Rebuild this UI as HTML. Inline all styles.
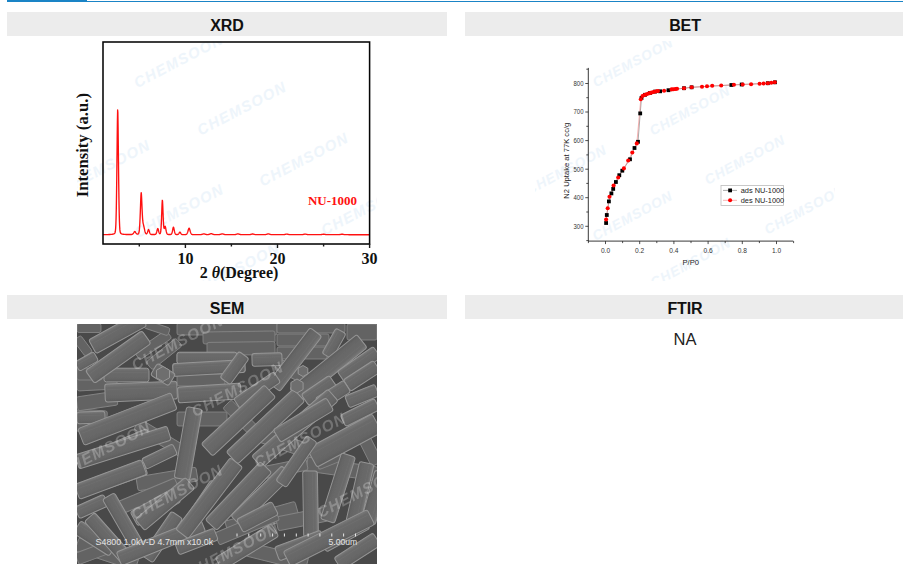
<!DOCTYPE html>
<html><head><meta charset="utf-8"><style>
html,body{margin:0;padding:0;background:#fff;}
body{width:903px;height:572px;overflow:hidden;position:relative;font-family:"Liberation Sans",sans-serif;}
.abs{position:absolute;}
.hd{position:absolute;height:24px;background:#ececec;text-align:center;line-height:27px;font-weight:bold;font-size:16px;letter-spacing:-0.1px;color:#111;}
svg{position:absolute;left:0;top:0;}
</style></head><body>
<div class="abs" style="left:7px;top:1px;width:896px;height:1px;background:#1a84c6"></div>
<div class="abs" style="left:7px;top:0;width:80px;height:2px;background:#1a84c6"></div>
<div class="hd" style="left:7px;top:12px;width:440px">XRD</div>
<div class="hd" style="left:465px;top:12px;width:440px">BET</div>
<div class="hd" style="left:7px;top:295px;width:440px">SEM</div>
<div class="hd" style="left:465px;top:295px;width:440px">FTIR</div>
<div class="abs" style="left:465px;top:329px;width:440px;text-align:center;font-size:16.5px;line-height:20px;color:#222">NA</div>
<svg width="903" height="572" viewBox="0 0 903 572">
<g transform="translate(77 41)" clip-path="url(#semclip)"><text x="101.4" y="19.5" transform="rotate(-27.5 101.4 19.5)" text-anchor="middle" dominant-baseline="central" font-family="Liberation Sans" font-weight="bold" font-style="italic" font-size="15" letter-spacing="1.3" fill="#eef5fb">CHEMSOON</text><text x="164.7" y="67" transform="rotate(-27.5 164.7 67)" text-anchor="middle" dominant-baseline="central" font-family="Liberation Sans" font-weight="bold" font-style="italic" font-size="15" letter-spacing="1.3" fill="#eef5fb">CHEMSOON</text><text x="28.5" y="125.4" transform="rotate(-27.5 28.5 125.4)" text-anchor="middle" dominant-baseline="central" font-family="Liberation Sans" font-weight="bold" font-style="italic" font-size="15" letter-spacing="1.3" fill="#eef5fb">CHEMSOON</text><text x="226.8" y="118" transform="rotate(-27.5 226.8 118)" text-anchor="middle" dominant-baseline="central" font-family="Liberation Sans" font-weight="bold" font-style="italic" font-size="15" letter-spacing="1.3" fill="#eef5fb">CHEMSOON</text><text x="102" y="169.5" transform="rotate(-27.5 102 169.5)" text-anchor="middle" dominant-baseline="central" font-family="Liberation Sans" font-weight="bold" font-style="italic" font-size="15" letter-spacing="1.3" fill="#eef5fb">CHEMSOON</text><text x="288.8" y="167" transform="rotate(-27.5 288.8 167)" text-anchor="middle" dominant-baseline="central" font-family="Liberation Sans" font-weight="bold" font-style="italic" font-size="15" letter-spacing="1.3" fill="#eef5fb">CHEMSOON</text><text x="158" y="228.4" transform="rotate(-27.5 158 228.4)" text-anchor="middle" dominant-baseline="central" font-family="Liberation Sans" font-weight="bold" font-style="italic" font-size="15" letter-spacing="1.3" fill="#eef5fb">CHEMSOON</text></g>
<g transform="translate(535 41)" clip-path="url(#semclip)"><text x="98" y="21.5" transform="rotate(-28.2 98 21.5)" text-anchor="middle" dominant-baseline="central" font-family="Liberation Sans" font-weight="bold" font-style="italic" font-size="13.8" letter-spacing="1.0" fill="#eef5fb">CHEMSOON</text><text x="155" y="69.8" transform="rotate(-28.2 155 69.8)" text-anchor="middle" dominant-baseline="central" font-family="Liberation Sans" font-weight="bold" font-style="italic" font-size="13.8" letter-spacing="1.0" fill="#eef5fb">CHEMSOON</text><text x="31.5" y="129" transform="rotate(-28.2 31.5 129)" text-anchor="middle" dominant-baseline="central" font-family="Liberation Sans" font-weight="bold" font-style="italic" font-size="13.8" letter-spacing="1.0" fill="#eef5fb">CHEMSOON</text><text x="210" y="118.9" transform="rotate(-28.2 210 118.9)" text-anchor="middle" dominant-baseline="central" font-family="Liberation Sans" font-weight="bold" font-style="italic" font-size="13.8" letter-spacing="1.0" fill="#eef5fb">CHEMSOON</text><text x="97.6" y="175" transform="rotate(-28.2 97.6 175)" text-anchor="middle" dominant-baseline="central" font-family="Liberation Sans" font-weight="bold" font-style="italic" font-size="13.8" letter-spacing="1.0" fill="#eef5fb">CHEMSOON</text><text x="269.7" y="168.7" transform="rotate(-28.2 269.7 168.7)" text-anchor="middle" dominant-baseline="central" font-family="Liberation Sans" font-weight="bold" font-style="italic" font-size="13.8" letter-spacing="1.0" fill="#eef5fb">CHEMSOON</text><text x="155.8" y="221.8" transform="rotate(-28.2 155.8 221.8)" text-anchor="middle" dominant-baseline="central" font-family="Liberation Sans" font-weight="bold" font-style="italic" font-size="13.8" letter-spacing="1.0" fill="#eef5fb">CHEMSOON</text></g>
<path d="M102.97,234.64 L103.19,234.63 L103.41,234.63 L103.64,234.63 L103.86,234.63 L104.08,234.63 L104.30,234.62 L104.53,234.62 L104.75,234.62 L104.97,234.62 L105.19,234.61 L105.41,234.61 L105.64,234.61 L105.86,234.60 L106.08,234.60 L106.30,234.60 L106.53,234.59 L106.75,234.59 L106.97,234.58 L107.19,234.58 L107.41,234.57 L107.64,234.57 L107.86,234.56 L108.08,234.56 L108.30,234.55 L108.53,234.54 L108.75,234.53 L108.97,234.53 L109.19,234.52 L109.41,234.51 L109.64,234.50 L109.86,234.49 L110.08,234.48 L110.30,234.46 L110.53,234.45 L110.75,234.43 L110.97,234.41 L111.19,234.40 L111.41,234.37 L111.64,234.35 L111.86,234.33 L112.08,234.30 L112.30,234.26 L112.52,234.23 L112.75,234.19 L112.97,234.14 L113.19,234.08 L113.41,234.02 L113.64,233.95 L113.86,233.86 L114.08,233.75 L114.30,233.62 L114.52,233.45 L114.75,233.19 L114.97,232.78 L115.19,232.05 L115.41,230.75 L115.64,228.41 L115.86,224.42 L116.08,218.00 L116.30,208.42 L116.52,195.21 L116.75,178.51 L116.97,159.20 L117.19,138.95 L117.41,120.71 L117.64,109.94 L117.86,112.48 L118.08,126.72 L118.30,146.15 L118.52,166.31 L118.75,184.84 L118.97,200.35 L119.19,212.24 L119.41,220.62 L119.63,226.07 L119.86,229.39 L120.08,231.30 L120.30,232.36 L120.52,232.95 L120.75,233.29 L120.97,233.51 L121.19,233.66 L121.41,233.78 L121.63,233.88 L121.86,233.96 L122.08,234.03 L122.30,234.09 L122.52,234.14 L122.75,234.19 L122.97,234.23 L123.19,234.26 L123.41,234.29 L123.63,234.32 L123.86,234.34 L124.08,234.36 L124.30,234.38 L124.52,234.40 L124.75,234.42 L124.97,234.43 L125.19,234.44 L125.41,234.45 L125.63,234.46 L125.86,234.47 L126.08,234.48 L126.30,234.49 L126.52,234.50 L126.74,234.50 L126.97,234.51 L127.19,234.51 L127.41,234.52 L127.63,234.52 L127.86,234.53 L128.08,234.53 L128.30,234.53 L128.52,234.54 L128.74,234.54 L128.97,234.54 L129.19,234.54 L129.41,234.54 L129.63,234.54 L129.86,234.54 L130.08,234.54 L130.30,234.54 L130.52,234.53 L130.74,234.53 L130.97,234.52 L131.19,234.51 L131.41,234.49 L131.63,234.47 L131.86,234.43 L132.08,234.37 L132.30,234.28 L132.52,234.16 L132.74,234.00 L132.97,233.79 L133.19,233.54 L133.41,233.24 L133.63,232.90 L133.86,232.55 L134.08,232.19 L134.30,231.86 L134.52,231.61 L134.74,231.51 L134.97,231.59 L135.19,231.82 L135.41,232.13 L135.63,232.48 L135.85,232.81 L136.08,233.13 L136.30,233.41 L136.52,233.64 L136.74,233.82 L136.97,233.95 L137.19,234.04 L137.41,234.09 L137.63,234.09 L137.85,234.07 L138.08,233.99 L138.30,233.85 L138.52,233.59 L138.74,233.13 L138.97,232.36 L139.19,231.10 L139.41,229.17 L139.63,226.36 L139.85,222.55 L140.08,217.75 L140.30,212.12 L140.52,206.00 L140.74,199.95 L140.97,194.99 L141.19,192.72 L141.41,194.18 L141.63,198.37 L141.85,203.64 L142.08,208.93 L142.30,213.68 L142.52,217.57 L142.74,220.44 L142.96,222.37 L143.19,223.58 L143.41,224.44 L143.63,225.29 L143.85,226.26 L144.08,227.32 L144.30,228.40 L144.52,229.44 L144.74,230.42 L144.96,231.29 L145.19,232.04 L145.41,232.65 L145.63,233.13 L145.85,233.48 L146.08,233.70 L146.30,233.81 L146.52,233.81 L146.74,233.68 L146.96,233.42 L147.19,233.02 L147.41,232.49 L147.63,231.85 L147.85,231.13 L148.08,230.42 L148.30,229.82 L148.52,229.51 L148.74,229.68 L148.96,230.21 L149.19,230.93 L149.41,231.67 L149.63,232.37 L149.85,232.98 L150.08,233.47 L150.30,233.84 L150.52,234.10 L150.74,234.27 L150.96,234.38 L151.19,234.44 L151.41,234.48 L151.63,234.50 L151.85,234.51 L152.07,234.52 L152.30,234.53 L152.52,234.53 L152.74,234.53 L152.96,234.53 L153.19,234.53 L153.41,234.53 L153.63,234.53 L153.85,234.53 L154.07,234.52 L154.30,234.52 L154.52,234.50 L154.74,234.49 L154.96,234.46 L155.19,234.41 L155.41,234.32 L155.63,234.19 L155.85,233.96 L156.07,233.63 L156.30,233.16 L156.52,232.55 L156.74,231.79 L156.96,230.94 L157.19,230.04 L157.41,229.21 L157.63,228.63 L157.85,228.54 L158.07,228.99 L158.30,229.75 L158.52,230.61 L158.74,231.45 L158.96,232.21 L159.18,232.82 L159.41,233.27 L159.63,233.57 L159.85,233.70 L160.07,233.64 L160.30,233.34 L160.52,232.66 L160.74,231.36 L160.96,229.19 L161.18,225.89 L161.41,221.38 L161.63,215.82 L161.85,209.72 L162.07,203.95 L162.30,200.30 L162.52,200.91 L162.74,205.29 L162.96,211.10 L163.18,216.84 L163.41,221.73 L163.63,225.31 L163.85,227.50 L164.07,228.44 L164.30,228.46 L164.52,227.89 L164.74,227.09 L164.96,226.43 L165.18,226.30 L165.41,226.88 L165.63,227.91 L165.85,229.11 L166.07,230.31 L166.30,231.39 L166.52,232.31 L166.74,233.02 L166.96,233.55 L167.18,233.91 L167.41,234.14 L167.63,234.29 L167.85,234.37 L168.07,234.42 L168.29,234.46 L168.52,234.48 L168.74,234.49 L168.96,234.50 L169.18,234.51 L169.41,234.51 L169.63,234.51 L169.85,234.51 L170.07,234.51 L170.29,234.50 L170.52,234.47 L170.74,234.43 L170.96,234.36 L171.18,234.22 L171.41,234.01 L171.63,233.67 L171.85,233.17 L172.07,232.50 L172.29,231.64 L172.52,230.63 L172.74,229.54 L172.96,228.45 L173.18,227.55 L173.41,227.14 L173.63,227.42 L173.85,228.25 L174.07,229.32 L174.29,230.43 L174.52,231.47 L174.74,232.36 L174.96,233.07 L175.18,233.61 L175.40,233.97 L175.63,234.22 L175.85,234.36 L176.07,234.45 L176.29,234.50 L176.52,234.53 L176.74,234.54 L176.96,234.55 L177.18,234.54 L177.40,234.52 L177.63,234.48 L177.85,234.41 L178.07,234.31 L178.29,234.14 L178.52,233.92 L178.74,233.64 L178.96,233.31 L179.18,232.94 L179.40,232.58 L179.63,232.28 L179.85,232.14 L180.07,232.23 L180.29,232.51 L180.52,232.87 L180.74,233.24 L180.96,233.58 L181.18,233.88 L181.40,234.12 L181.63,234.30 L181.85,234.42 L182.07,234.50 L182.29,234.55 L182.51,234.58 L182.74,234.60 L182.96,234.60 L183.18,234.61 L183.40,234.61 L183.63,234.61 L183.85,234.61 L184.07,234.61 L184.29,234.61 L184.51,234.60 L184.74,234.60 L184.96,234.59 L185.18,234.58 L185.40,234.56 L185.63,234.54 L185.85,234.49 L186.07,234.43 L186.29,234.33 L186.51,234.18 L186.74,233.97 L186.96,233.68 L187.18,233.29 L187.40,232.80 L187.63,232.21 L187.85,231.54 L188.07,230.79 L188.29,230.02 L188.51,229.28 L188.74,228.64 L188.96,228.24 L189.18,228.22 L189.40,228.57 L189.63,229.19 L189.85,229.93 L190.07,230.70 L190.29,231.45 L190.51,232.13 L190.74,232.74 L190.96,233.24 L191.18,233.64 L191.40,233.94 L191.62,234.17 L191.85,234.32 L192.07,234.43 L192.29,234.50 L192.51,234.55 L192.74,234.58 L192.96,234.59 L193.18,234.61 L193.40,234.62 L193.62,234.62 L193.85,234.63 L194.07,234.63 L194.29,234.64 L194.51,234.64 L194.74,234.65 L194.96,234.65 L195.18,234.65 L195.40,234.65 L195.62,234.65 L195.85,234.66 L196.07,234.66 L196.29,234.66 L196.51,234.66 L196.74,234.66 L196.96,234.66 L197.18,234.66 L197.40,234.66 L197.62,234.66 L197.85,234.66 L198.07,234.66 L198.29,234.66 L198.51,234.66 L198.73,234.66 L198.96,234.66 L199.18,234.66 L199.40,234.66 L199.62,234.65 L199.85,234.65 L200.07,234.64 L200.29,234.62 L200.51,234.61 L200.73,234.59 L200.96,234.56 L201.18,234.53 L201.40,234.49 L201.62,234.44 L201.85,234.38 L202.07,234.32 L202.29,234.26 L202.51,234.19 L202.73,234.12 L202.96,234.05 L203.18,233.98 L203.40,233.93 L203.62,233.89 L203.85,233.88 L204.07,233.90 L204.29,233.94 L204.51,233.99 L204.73,234.06 L204.96,234.13 L205.18,234.20 L205.40,234.27 L205.62,234.33 L205.85,234.39 L206.07,234.44 L206.29,234.49 L206.51,234.52 L206.73,234.55 L206.96,234.57 L207.18,234.58 L207.40,234.59 L207.62,234.59 L207.84,234.57 L208.07,234.56 L208.29,234.53 L208.51,234.49 L208.73,234.44 L208.96,234.39 L209.18,234.32 L209.40,234.25 L209.62,234.17 L209.84,234.08 L210.07,233.99 L210.29,233.90 L210.51,233.82 L210.73,233.75 L210.96,233.70 L211.18,233.68 L211.40,233.70 L211.62,233.75 L211.84,233.82 L212.07,233.90 L212.29,233.99 L212.51,234.08 L212.73,234.16 L212.96,234.25 L213.18,234.32 L213.40,234.39 L213.62,234.45 L213.84,234.50 L214.07,234.54 L214.29,234.57 L214.51,234.60 L214.73,234.62 L214.95,234.64 L215.18,234.65 L215.40,234.65 L215.62,234.66 L215.84,234.66 L216.07,234.67 L216.29,234.67 L216.51,234.67 L216.73,234.67 L216.95,234.67 L217.18,234.67 L217.40,234.67 L217.62,234.67 L217.84,234.66 L218.07,234.66 L218.29,234.65 L218.51,234.64 L218.73,234.63 L218.95,234.61 L219.18,234.59 L219.40,234.57 L219.62,234.53 L219.84,234.49 L220.07,234.44 L220.29,234.39 L220.51,234.33 L220.73,234.26 L220.95,234.19 L221.18,234.12 L221.40,234.05 L221.62,233.98 L221.84,233.93 L222.07,233.90 L222.29,233.89 L222.51,233.91 L222.73,233.95 L222.95,234.01 L223.18,234.08 L223.40,234.15 L223.62,234.22 L223.84,234.29 L224.06,234.35 L224.29,234.41 L224.51,234.47 L224.73,234.51 L224.95,234.55 L225.18,234.58 L225.40,234.61 L225.62,234.63 L225.84,234.64 L226.06,234.65 L226.29,234.66 L226.51,234.67 L226.73,234.67 L226.95,234.68 L227.18,234.68 L227.40,234.68 L227.62,234.68 L227.84,234.68 L228.06,234.68 L228.29,234.68 L228.51,234.68 L228.73,234.68 L228.95,234.68 L229.18,234.68 L229.40,234.69 L229.62,234.69 L229.84,234.69 L230.06,234.69 L230.29,234.69 L230.51,234.69 L230.73,234.69 L230.95,234.69 L231.17,234.69 L231.40,234.68 L231.62,234.68 L231.84,234.68 L232.06,234.68 L232.29,234.68 L232.51,234.68 L232.73,234.68 L232.95,234.68 L233.17,234.68 L233.40,234.67 L233.62,234.67 L233.84,234.66 L234.06,234.66 L234.29,234.64 L234.51,234.63 L234.73,234.61 L234.95,234.58 L235.17,234.55 L235.40,234.52 L235.62,234.47 L235.84,234.42 L236.06,234.36 L236.29,234.30 L236.51,234.23 L236.73,234.16 L236.95,234.09 L237.17,234.02 L237.40,233.96 L237.62,233.92 L237.84,233.89 L238.06,233.90 L238.28,233.93 L238.51,233.99 L238.73,234.05 L238.95,234.12 L239.17,234.19 L239.40,234.26 L239.62,234.33 L239.84,234.39 L240.06,234.45 L240.28,234.49 L240.51,234.54 L240.73,234.57 L240.95,234.60 L241.17,234.62 L241.40,234.64 L241.62,234.65 L241.84,234.66 L242.06,234.67 L242.28,234.67 L242.51,234.68 L242.73,234.68 L242.95,234.68 L243.17,234.68 L243.40,234.68 L243.62,234.68 L243.84,234.69 L244.06,234.69 L244.28,234.69 L244.51,234.69 L244.73,234.69 L244.95,234.69 L245.17,234.69 L245.40,234.69 L245.62,234.69 L245.84,234.69 L246.06,234.69 L246.28,234.69 L246.51,234.69 L246.73,234.69 L246.95,234.69 L247.17,234.68 L247.39,234.68 L247.62,234.68 L247.84,234.68 L248.06,234.68 L248.28,234.68 L248.51,234.67 L248.73,234.66 L248.95,234.65 L249.17,234.64 L249.39,234.63 L249.62,234.61 L249.84,234.58 L250.06,234.55 L250.28,234.51 L250.51,234.47 L250.73,234.42 L250.95,234.36 L251.17,234.31 L251.39,234.24 L251.62,234.18 L251.84,234.12 L252.06,234.07 L252.28,234.02 L252.51,234.00 L252.73,234.00 L252.95,234.02 L253.17,234.06 L253.39,234.11 L253.62,234.17 L253.84,234.24 L254.06,234.30 L254.28,234.36 L254.50,234.41 L254.73,234.46 L254.95,234.51 L255.17,234.55 L255.39,234.58 L255.62,234.60 L255.84,234.63 L256.06,234.64 L256.28,234.65 L256.50,234.66 L256.73,234.67 L256.95,234.68 L257.17,234.68 L257.39,234.68 L257.62,234.68 L257.84,234.68 L258.06,234.69 L258.28,234.69 L258.50,234.69 L258.73,234.69 L258.95,234.69 L259.17,234.69 L259.39,234.69 L259.62,234.69 L259.84,234.69 L260.06,234.69 L260.28,234.69 L260.50,234.69 L260.73,234.69 L260.95,234.69 L261.17,234.69 L261.39,234.69 L261.62,234.69 L261.84,234.69 L262.06,234.69 L262.28,234.69 L262.50,234.69 L262.73,234.69 L262.95,234.68 L263.17,234.68 L263.39,234.68 L263.61,234.68 L263.84,234.68 L264.06,234.67 L264.28,234.67 L264.50,234.66 L264.73,234.64 L264.95,234.63 L265.17,234.61 L265.39,234.58 L265.61,234.55 L265.84,234.51 L266.06,234.46 L266.28,234.41 L266.50,234.35 L266.73,234.28 L266.95,234.21 L267.17,234.14 L267.39,234.07 L267.61,234.01 L267.84,233.95 L268.06,233.91 L268.28,233.90 L268.50,233.91 L268.73,233.95 L268.95,234.00 L269.17,234.07 L269.39,234.14 L269.61,234.21 L269.84,234.28 L270.06,234.34 L270.28,234.40 L270.50,234.46 L270.72,234.51 L270.95,234.55 L271.17,234.58 L271.39,234.61 L271.61,234.63 L271.84,234.64 L272.06,234.66 L272.28,234.67 L272.50,234.67 L272.72,234.68 L272.95,234.68 L273.17,234.68 L273.39,234.68 L273.61,234.69 L273.84,234.69 L274.06,234.69 L274.28,234.69 L274.50,234.69 L274.72,234.69 L274.95,234.69 L275.17,234.69 L275.39,234.69 L275.61,234.69 L275.84,234.69 L276.06,234.69 L276.28,234.69 L276.50,234.69 L276.72,234.69 L276.95,234.69 L277.17,234.69 L277.39,234.69 L277.61,234.69 L277.84,234.69 L278.06,234.69 L278.28,234.69 L278.50,234.69 L278.72,234.69 L278.95,234.69 L279.17,234.69 L279.39,234.69 L279.61,234.69 L279.83,234.69 L280.06,234.69 L280.28,234.69 L280.50,234.69 L280.72,234.69 L280.95,234.69 L281.17,234.69 L281.39,234.69 L281.61,234.69 L281.83,234.69 L282.06,234.68 L282.28,234.68 L282.50,234.68 L282.72,234.67 L282.95,234.67 L283.17,234.66 L283.39,234.64 L283.61,234.63 L283.83,234.61 L284.06,234.58 L284.28,234.55 L284.50,234.52 L284.72,234.48 L284.95,234.43 L285.17,234.38 L285.39,234.33 L285.61,234.28 L285.83,234.22 L286.06,234.18 L286.28,234.13 L286.50,234.11 L286.72,234.10 L286.94,234.11 L287.17,234.14 L287.39,234.18 L287.61,234.23 L287.83,234.28 L288.06,234.34 L288.28,234.39 L288.50,234.44 L288.72,234.48 L288.94,234.52 L289.17,234.56 L289.39,234.59 L289.61,234.61 L289.83,234.63 L290.06,234.65 L290.28,234.66 L290.50,234.67 L290.72,234.67 L290.94,234.68 L291.17,234.68 L291.39,234.69 L291.61,234.69 L291.83,234.69 L292.06,234.69 L292.28,234.69 L292.50,234.69 L292.72,234.69 L292.94,234.69 L293.17,234.69 L293.39,234.69 L293.61,234.69 L293.83,234.69 L294.05,234.69 L294.28,234.69 L294.50,234.69 L294.72,234.69 L294.94,234.69 L295.17,234.69 L295.39,234.69 L295.61,234.69 L295.83,234.69 L296.05,234.69 L296.28,234.69 L296.50,234.69 L296.72,234.69 L296.94,234.69 L297.17,234.69 L297.39,234.69 L297.61,234.69 L297.83,234.69 L298.05,234.69 L298.28,234.69 L298.50,234.69 L298.72,234.69 L298.94,234.69 L299.17,234.69 L299.39,234.69 L299.61,234.69 L299.83,234.69 L300.05,234.69 L300.28,234.69 L300.50,234.68 L300.72,234.68 L300.94,234.68 L301.17,234.67 L301.39,234.67 L301.61,234.66 L301.83,234.64 L302.05,234.63 L302.28,234.61 L302.50,234.58 L302.72,234.55 L302.94,234.52 L303.16,234.47 L303.39,234.43 L303.61,234.38 L303.83,234.33 L304.05,234.27 L304.28,234.22 L304.50,234.17 L304.72,234.13 L304.94,234.10 L305.16,234.10 L305.39,234.11 L305.61,234.14 L305.83,234.19 L306.05,234.24 L306.28,234.29 L306.50,234.34 L306.72,234.39 L306.94,234.44 L307.16,234.49 L307.39,234.53 L307.61,234.56 L307.83,234.59 L308.05,234.61 L308.28,234.63 L308.50,234.65 L308.72,234.66 L308.94,234.67 L309.16,234.68 L309.39,234.68 L309.61,234.68 L309.83,234.69 L310.05,234.69 L310.27,234.69 L310.50,234.69 L310.72,234.69 L310.94,234.69 L311.16,234.69 L311.39,234.69 L311.61,234.69 L311.83,234.69 L312.05,234.69 L312.27,234.69 L312.50,234.69 L312.72,234.69 L312.94,234.69 L313.16,234.69 L313.39,234.69 L313.61,234.69 L313.83,234.69 L314.05,234.69 L314.27,234.69 L314.50,234.69 L314.72,234.69 L314.94,234.69 L315.16,234.69 L315.39,234.69 L315.61,234.69 L315.83,234.69 L316.05,234.69 L316.27,234.69 L316.50,234.69 L316.72,234.69 L316.94,234.69 L317.16,234.69 L317.39,234.69 L317.61,234.69 L317.83,234.69 L318.05,234.69 L318.27,234.69 L318.50,234.69 L318.72,234.69 L318.94,234.69 L319.16,234.68 L319.38,234.68 L319.61,234.68 L319.83,234.67 L320.05,234.66 L320.27,234.65 L320.50,234.64 L320.72,234.62 L320.94,234.60 L321.16,234.57 L321.38,234.54 L321.61,234.51 L321.83,234.47 L322.05,234.43 L322.27,234.38 L322.50,234.34 L322.72,234.30 L322.94,234.26 L323.16,234.22 L323.38,234.20 L323.61,234.20 L323.83,234.21 L324.05,234.24 L324.27,234.28 L324.50,234.32 L324.72,234.36 L324.94,234.41 L325.16,234.45 L325.38,234.49 L325.61,234.53 L325.83,234.56 L326.05,234.59 L326.27,234.61 L326.49,234.63 L326.72,234.65 L326.94,234.66 L327.16,234.67 L327.38,234.67 L327.61,234.68 L327.83,234.68 L328.05,234.69 L328.27,234.69 L328.49,234.69 L328.72,234.69 L328.94,234.69 L329.16,234.69 L329.38,234.69 L329.61,234.69 L329.83,234.69 L330.05,234.69 L330.27,234.69 L330.49,234.69 L330.72,234.69 L330.94,234.69 L331.16,234.69 L331.38,234.69 L331.61,234.69 L331.83,234.69 L332.05,234.69 L332.27,234.69 L332.49,234.69 L332.72,234.69 L332.94,234.69 L333.16,234.69 L333.38,234.69 L333.61,234.69 L333.83,234.69 L334.05,234.69 L334.27,234.69 L334.49,234.69 L334.72,234.69 L334.94,234.69 L335.16,234.69 L335.38,234.69 L335.60,234.69 L335.83,234.69 L336.05,234.69 L336.27,234.69 L336.49,234.69 L336.72,234.69 L336.94,234.69 L337.16,234.69 L337.38,234.69 L337.60,234.69 L337.83,234.68 L338.05,234.68 L338.27,234.67 L338.49,234.66 L338.72,234.65 L338.94,234.64 L339.16,234.62 L339.38,234.60 L339.60,234.57 L339.83,234.54 L340.05,234.51 L340.27,234.47 L340.49,234.42 L340.72,234.38 L340.94,234.34 L341.16,234.29 L341.38,234.25 L341.60,234.22 L341.83,234.20 L342.05,234.20 L342.27,234.21 L342.49,234.24 L342.71,234.28 L342.94,234.32 L343.16,234.37 L343.38,234.41 L343.60,234.45 L343.83,234.49 L344.05,234.53 L344.27,234.56 L344.49,234.59 L344.71,234.61 L344.94,234.63 L345.16,234.65 L345.38,234.66 L345.60,234.67 L345.83,234.68 L346.05,234.68 L346.27,234.69 L346.49,234.69 L346.71,234.69 L346.94,234.69 L347.16,234.69 L347.38,234.69 L347.60,234.69 L347.83,234.69 L348.05,234.69 L348.27,234.69 L348.49,234.70 L348.71,234.70 L348.94,234.70 L349.16,234.70 L349.38,234.70 L349.60,234.70 L349.82,234.70 L350.05,234.70 L350.27,234.70 L350.49,234.70 L350.71,234.70 L350.94,234.70 L351.16,234.70 L351.38,234.70 L351.60,234.70 L351.82,234.70 L352.05,234.70 L352.27,234.70 L352.49,234.70 L352.71,234.70 L352.94,234.70 L353.16,234.70 L353.38,234.70 L353.60,234.70 L353.82,234.70 L354.05,234.70 L354.27,234.70 L354.49,234.70 L354.71,234.70 L354.94,234.70 L355.16,234.70 L355.38,234.70 L355.60,234.70 L355.82,234.70 L356.05,234.70 L356.27,234.70 L356.49,234.70 L356.71,234.70 L356.94,234.70 L357.16,234.70 L357.38,234.70 L357.60,234.70 L357.82,234.70 L358.05,234.70 L358.27,234.70 L358.49,234.70 L358.71,234.70 L358.93,234.70 L359.16,234.70 L359.38,234.70 L359.60,234.70 L359.82,234.70 L360.05,234.70 L360.27,234.70 L360.49,234.70 L360.71,234.70 L360.93,234.70 L361.16,234.70 L361.38,234.70 L361.60,234.70 L361.82,234.70 L362.05,234.70 L362.27,234.70 L362.49,234.70 L362.71,234.70 L362.93,234.70 L363.16,234.70 L363.38,234.70 L363.60,234.70 L363.82,234.70 L364.05,234.70 L364.27,234.70 L364.49,234.70 L364.71,234.70 L364.93,234.70 L365.16,234.70 L365.38,234.70 L365.60,234.70 L365.82,234.70 L366.04,234.70 L366.27,234.70 L366.49,234.70 L366.71,234.70 L366.93,234.70 L367.16,234.70 L367.38,234.70 L367.60,234.70 L367.82,234.70 L368.04,234.70 L368.27,234.70 L368.49,234.70 L368.71,234.70 L368.93,234.70 L369.16,234.70 L369.38,234.70 L369.60,234.70" fill="none" stroke="#ff1010" stroke-width="1.35" stroke-linejoin="round"/><rect x="103" y="42" width="266.6" height="202" fill="none" stroke="#050505" stroke-width="1.55"/><line x1="139.3" y1="243.8" x2="139.3" y2="246.5" stroke="#1a1a1a" stroke-width="1.4"/><line x1="231.4" y1="243.8" x2="231.4" y2="246.5" stroke="#1a1a1a" stroke-width="1.4"/><line x1="323.6" y1="243.8" x2="323.6" y2="246.5" stroke="#1a1a1a" stroke-width="1.4"/><line x1="185.4" y1="243.8" x2="185.4" y2="248" stroke="#1a1a1a" stroke-width="1.4"/><line x1="277.5" y1="243.8" x2="277.5" y2="248" stroke="#1a1a1a" stroke-width="1.4"/><line x1="369.6" y1="243.8" x2="369.6" y2="248" stroke="#1a1a1a" stroke-width="1.4"/><text x="185.4" y="263.5" text-anchor="middle" font-family="Liberation Serif" font-weight="bold" font-size="16" fill="#111">10</text><text x="277.5" y="263.5" text-anchor="middle" font-family="Liberation Serif" font-weight="bold" font-size="16" fill="#111">20</text><text x="369.6" y="263.5" text-anchor="middle" font-family="Liberation Serif" font-weight="bold" font-size="16" fill="#111">30</text><text x="239" y="277.5" text-anchor="middle" font-family="Liberation Serif" font-weight="bold" font-size="16" fill="#111">2 <tspan font-style="italic">θ</tspan>(Degree)</text><text transform="translate(88.2 145.2) rotate(-90)" text-anchor="middle" font-family="Liberation Serif" font-weight="bold" font-size="16.7" fill="#111">Intensity (a.u.)</text><text x="332.5" y="204.5" text-anchor="middle" font-family="Liberation Serif" font-weight="bold" font-size="13" fill="#ff1010">NU-1000</text>
<polyline points="606.1,223 606.8,215 608.9,201.4 611.4,193.4 613.2,188.9 615.9,182 619.3,175.2 622.3,170.7 630,159.3 634.5,148 638,141.8 640.2,113.4 641.5,98 645,94.8 650,93 655,91.6 660.1,91.3 668.5,90.2 684,88.2 691.6,87.3 731.4,85 741.7,84.5 767.8,83.2 775,82.3" fill="none" stroke="#555" stroke-width="0.5"/><polyline points="606.1,219.5 607.7,208.2 609.5,196.8 613.6,185.5 618.2,177.5 623.9,168.4 628.2,160.5 632.3,152.5 636.8,143.4 640.8,99.2 642.5,96 644.5,95 646.5,94.2 648.5,93.5 650.5,92.9 652.5,92.3 654.5,91.8 656.5,91.3 658,91 664.1,90.8 671.6,89.4 673.5,89.2 675.5,89 677,88.8 684,88.2 691.6,87.3 702,86.7 707,86.3 712.2,85.8 721.2,85.5 733.9,84.8 742.7,84.5 751.1,84.2 759.6,83.8 763.6,83.5 767.8,83.2 771.3,82.8 774.8,82.3" fill="none" stroke="#f08080" stroke-width="0.6"/><rect x="604.2" y="221.1" width="3.8" height="3.8" fill="#000"/><rect x="604.9" y="213.1" width="3.8" height="3.8" fill="#000"/><rect x="607.0" y="199.5" width="3.8" height="3.8" fill="#000"/><rect x="609.5" y="191.5" width="3.8" height="3.8" fill="#000"/><rect x="611.3" y="187.0" width="3.8" height="3.8" fill="#000"/><rect x="614.0" y="180.1" width="3.8" height="3.8" fill="#000"/><rect x="617.4" y="173.3" width="3.8" height="3.8" fill="#000"/><rect x="620.4" y="168.8" width="3.8" height="3.8" fill="#000"/><rect x="628.1" y="157.4" width="3.8" height="3.8" fill="#000"/><rect x="632.6" y="146.1" width="3.8" height="3.8" fill="#000"/><rect x="636.1" y="139.9" width="3.8" height="3.8" fill="#000"/><rect x="638.3" y="111.5" width="3.8" height="3.8" fill="#000"/><rect x="639.6" y="96.1" width="3.8" height="3.8" fill="#000"/><rect x="643.1" y="92.9" width="3.8" height="3.8" fill="#000"/><rect x="648.1" y="91.1" width="3.8" height="3.8" fill="#000"/><rect x="653.1" y="89.7" width="3.8" height="3.8" fill="#000"/><rect x="658.2" y="89.4" width="3.8" height="3.8" fill="#000"/><rect x="666.6" y="88.3" width="3.8" height="3.8" fill="#000"/><rect x="682.1" y="86.3" width="3.8" height="3.8" fill="#000"/><rect x="689.7" y="85.4" width="3.8" height="3.8" fill="#000"/><rect x="729.5" y="83.1" width="3.8" height="3.8" fill="#000"/><rect x="739.8" y="82.6" width="3.8" height="3.8" fill="#000"/><rect x="765.9" y="81.3" width="3.8" height="3.8" fill="#000"/><rect x="773.1" y="80.4" width="3.8" height="3.8" fill="#000"/><circle cx="606.1" cy="219.5" r="2.05" fill="#f00"/><circle cx="607.7" cy="208.2" r="2.05" fill="#f00"/><circle cx="609.5" cy="196.8" r="2.05" fill="#f00"/><circle cx="613.6" cy="185.5" r="2.05" fill="#f00"/><circle cx="618.2" cy="177.5" r="2.05" fill="#f00"/><circle cx="623.9" cy="168.4" r="2.05" fill="#f00"/><circle cx="628.2" cy="160.5" r="2.05" fill="#f00"/><circle cx="632.3" cy="152.5" r="2.05" fill="#f00"/><circle cx="636.8" cy="143.4" r="2.05" fill="#f00"/><circle cx="640.8" cy="99.2" r="2.05" fill="#f00"/><circle cx="642.5" cy="96" r="2.05" fill="#f00"/><circle cx="644.5" cy="95" r="2.05" fill="#f00"/><circle cx="646.5" cy="94.2" r="2.05" fill="#f00"/><circle cx="648.5" cy="93.5" r="2.05" fill="#f00"/><circle cx="650.5" cy="92.9" r="2.05" fill="#f00"/><circle cx="652.5" cy="92.3" r="2.05" fill="#f00"/><circle cx="654.5" cy="91.8" r="2.05" fill="#f00"/><circle cx="656.5" cy="91.3" r="2.05" fill="#f00"/><circle cx="658" cy="91" r="2.05" fill="#f00"/><circle cx="664.1" cy="90.8" r="2.05" fill="#f00"/><circle cx="671.6" cy="89.4" r="2.05" fill="#f00"/><circle cx="673.5" cy="89.2" r="2.05" fill="#f00"/><circle cx="675.5" cy="89" r="2.05" fill="#f00"/><circle cx="677" cy="88.8" r="2.05" fill="#f00"/><circle cx="684" cy="88.2" r="2.05" fill="#f00"/><circle cx="691.6" cy="87.3" r="2.05" fill="#f00"/><circle cx="702" cy="86.7" r="2.05" fill="#f00"/><circle cx="707" cy="86.3" r="2.05" fill="#f00"/><circle cx="712.2" cy="85.8" r="2.05" fill="#f00"/><circle cx="721.2" cy="85.5" r="2.05" fill="#f00"/><circle cx="733.9" cy="84.8" r="2.05" fill="#f00"/><circle cx="742.7" cy="84.5" r="2.05" fill="#f00"/><circle cx="751.1" cy="84.2" r="2.05" fill="#f00"/><circle cx="759.6" cy="83.8" r="2.05" fill="#f00"/><circle cx="763.6" cy="83.5" r="2.05" fill="#f00"/><circle cx="767.8" cy="83.2" r="2.05" fill="#f00"/><circle cx="771.3" cy="82.8" r="2.05" fill="#f00"/><circle cx="774.8" cy="82.3" r="2.05" fill="#f00"/><line x1="588.3" y1="67.9" x2="588.3" y2="241" stroke="#222" stroke-width="0.9"/><line x1="588" y1="241.1" x2="793.3" y2="241.1" stroke="#222" stroke-width="0.9"/><line x1="586.3" y1="240.6" x2="588.3" y2="240.6" stroke="#222" stroke-width="0.8"/><line x1="585.3" y1="226.3" x2="588.3" y2="226.3" stroke="#222" stroke-width="0.8"/><line x1="586.3" y1="212.0" x2="588.3" y2="212.0" stroke="#222" stroke-width="0.8"/><line x1="585.3" y1="197.7" x2="588.3" y2="197.7" stroke="#222" stroke-width="0.8"/><line x1="586.3" y1="183.4" x2="588.3" y2="183.4" stroke="#222" stroke-width="0.8"/><line x1="585.3" y1="169.2" x2="588.3" y2="169.2" stroke="#222" stroke-width="0.8"/><line x1="586.3" y1="154.9" x2="588.3" y2="154.9" stroke="#222" stroke-width="0.8"/><line x1="585.3" y1="140.6" x2="588.3" y2="140.6" stroke="#222" stroke-width="0.8"/><line x1="586.3" y1="126.3" x2="588.3" y2="126.3" stroke="#222" stroke-width="0.8"/><line x1="585.3" y1="112.0" x2="588.3" y2="112.0" stroke="#222" stroke-width="0.8"/><line x1="586.3" y1="97.7" x2="588.3" y2="97.7" stroke="#222" stroke-width="0.8"/><line x1="585.3" y1="83.5" x2="588.3" y2="83.5" stroke="#222" stroke-width="0.8"/><line x1="586.3" y1="69.2" x2="588.3" y2="69.2" stroke="#222" stroke-width="0.8"/><text x="583.5" y="228.7" text-anchor="end" font-family="Liberation Sans" font-size="6.4" fill="#333" textLength="10" lengthAdjust="spacingAndGlyphs">300</text><text x="583.5" y="200.1" text-anchor="end" font-family="Liberation Sans" font-size="6.4" fill="#333" textLength="10" lengthAdjust="spacingAndGlyphs">400</text><text x="583.5" y="171.6" text-anchor="end" font-family="Liberation Sans" font-size="6.4" fill="#333" textLength="10" lengthAdjust="spacingAndGlyphs">500</text><text x="583.5" y="143.0" text-anchor="end" font-family="Liberation Sans" font-size="6.4" fill="#333" textLength="10" lengthAdjust="spacingAndGlyphs">600</text><text x="583.5" y="114.4" text-anchor="end" font-family="Liberation Sans" font-size="6.4" fill="#333" textLength="10" lengthAdjust="spacingAndGlyphs">700</text><text x="583.5" y="85.9" text-anchor="end" font-family="Liberation Sans" font-size="6.4" fill="#333" textLength="10" lengthAdjust="spacingAndGlyphs">800</text><line x1="588.4" y1="241.1" x2="588.4" y2="243.1" stroke="#222" stroke-width="0.8"/><line x1="605.5" y1="241.1" x2="605.5" y2="244.1" stroke="#222" stroke-width="0.8"/><line x1="622.6" y1="241.1" x2="622.6" y2="243.1" stroke="#222" stroke-width="0.8"/><line x1="639.7" y1="241.1" x2="639.7" y2="244.1" stroke="#222" stroke-width="0.8"/><line x1="656.8" y1="241.1" x2="656.8" y2="243.1" stroke="#222" stroke-width="0.8"/><line x1="673.9" y1="241.1" x2="673.9" y2="244.1" stroke="#222" stroke-width="0.8"/><line x1="691.0" y1="241.1" x2="691.0" y2="243.1" stroke="#222" stroke-width="0.8"/><line x1="708.1" y1="241.1" x2="708.1" y2="244.1" stroke="#222" stroke-width="0.8"/><line x1="725.2" y1="241.1" x2="725.2" y2="243.1" stroke="#222" stroke-width="0.8"/><line x1="742.3" y1="241.1" x2="742.3" y2="244.1" stroke="#222" stroke-width="0.8"/><line x1="759.4" y1="241.1" x2="759.4" y2="243.1" stroke="#222" stroke-width="0.8"/><line x1="776.5" y1="241.1" x2="776.5" y2="244.1" stroke="#222" stroke-width="0.8"/><line x1="793.6" y1="241.1" x2="793.6" y2="243.1" stroke="#222" stroke-width="0.8"/><text x="605.5" y="252.5" text-anchor="middle" font-family="Liberation Sans" font-size="6.6" fill="#333">0.0</text><text x="639.7" y="252.5" text-anchor="middle" font-family="Liberation Sans" font-size="6.6" fill="#333">0.2</text><text x="673.9" y="252.5" text-anchor="middle" font-family="Liberation Sans" font-size="6.6" fill="#333">0.4</text><text x="708.1" y="252.5" text-anchor="middle" font-family="Liberation Sans" font-size="6.6" fill="#333">0.6</text><text x="742.3" y="252.5" text-anchor="middle" font-family="Liberation Sans" font-size="6.6" fill="#333">0.8</text><text x="776.5" y="252.5" text-anchor="middle" font-family="Liberation Sans" font-size="6.6" fill="#333">1.0</text><text x="690.7" y="265" text-anchor="middle" font-family="Liberation Sans" font-size="7.6" fill="#222">P/P0</text><text transform="translate(569 160.7) rotate(-90)" text-anchor="middle" font-family="Liberation Sans" font-size="7.6" fill="#222">N2 Uptake at 77K cc/g</text><rect x="721" y="185.4" width="62.6" height="20" fill="#fff" stroke="#bbb" stroke-width="0.8"/><line x1="723" y1="190.4" x2="737" y2="190.4" stroke="#555" stroke-width="0.5"/><rect x="728.2" y="188.5" width="3.8" height="3.8" fill="#000"/><line x1="723" y1="200.3" x2="737" y2="200.3" stroke="#f08080" stroke-width="0.6"/><circle cx="730.1" cy="200.3" r="2.05" fill="#f00"/><text x="740.7" y="193" font-family="Liberation Sans" font-size="7.4" fill="#222">ads NU-1000</text><text x="740.7" y="202.9" font-family="Liberation Sans" font-size="7.4" fill="#222">des NU-1000</text>
<defs>
<linearGradient id="rg" x1="0" y1="0" x2="0" y2="1"><stop offset="0" stop-color="#7a7a7a"/><stop offset="0.2" stop-color="#6b6b6b"/><stop offset="0.8" stop-color="#656565"/><stop offset="1" stop-color="#5c5c5c"/></linearGradient>
<filter id="semblur" x="0" y="0" width="100%" height="100%"><feGaussianBlur stdDeviation="0.45"/></filter>
<clipPath id="semclip"><rect x="0" y="0" width="300" height="240"/></clipPath>
</defs>
<g transform="translate(77 324)" clip-path="url(#semclip)"><g filter="url(#semblur)">
<rect x="0" y="0" width="300" height="240" fill="#484848"/><g transform="translate(12.0,4.0) rotate(0.0)"><rect x="-12.0" y="-4.5" width="24.0" height="9.0" rx="2" fill="#646464" stroke="#858585" stroke-width="0.9"/></g><g transform="translate(6.0,22.0) rotate(53.1)"><rect x="-10.0" y="-4.5" width="20.0" height="9.0" rx="2" fill="#646464" stroke="#858585" stroke-width="0.9"/></g><g transform="translate(150.0,5.0) rotate(0.0)"><rect x="-50.0" y="-6.0" width="100.0" height="12.0" rx="2" fill="#646464" stroke="#858585" stroke-width="0.9"/></g><g transform="translate(162.0,13.5) rotate(-0.8)"><rect x="-36.0" y="-6.0" width="72.0" height="12.0" rx="2" fill="#646464" stroke="#858585" stroke-width="0.9"/></g><g transform="translate(234.0,4.0) rotate(0.0)"><rect x="-34.0" y="-5.0" width="68.0" height="10.0" rx="2" fill="#646464" stroke="#858585" stroke-width="0.9"/></g><g transform="translate(285.0,8.0) rotate(0.0)"><rect x="-15.0" y="-8.0" width="30.0" height="16.0" rx="2" fill="#646464" stroke="#858585" stroke-width="0.9"/></g><g transform="translate(164.0,24.5) rotate(-0.8)"><rect x="-34.0" y="-6.5" width="68.0" height="13.0" rx="2" fill="#646464" stroke="#858585" stroke-width="0.9"/></g><g transform="translate(226.0,16.0) rotate(0.0)"><rect x="-26.0" y="-6.0" width="52.0" height="12.0" rx="2" fill="#646464" stroke="#858585" stroke-width="0.9"/></g><g transform="translate(225.0,29.0) rotate(0.0)"><rect x="-25.0" y="-6.0" width="50.0" height="12.0" rx="2" fill="#646464" stroke="#858585" stroke-width="0.9"/></g><g transform="translate(132.0,44.0) rotate(-3.2)"><rect x="-36.1" y="-6.0" width="72.1" height="12.0" rx="2" fill="#646464" stroke="#858585" stroke-width="0.9"/></g><g transform="translate(130.0,34.0) rotate(0.0)"><rect x="-30.0" y="-5.5" width="60.0" height="11.0" rx="2" fill="#646464" stroke="#858585" stroke-width="0.9"/></g><g transform="translate(124.0,56.0) rotate(0.0)"><rect x="-24.0" y="-6.0" width="48.0" height="12.0" rx="2" fill="#646464" stroke="#858585" stroke-width="0.9"/></g><g transform="translate(15.0,91.0) rotate(3.8)"><rect x="-15.0" y="-5.0" width="30.1" height="10.0" rx="2" fill="#646464" stroke="#858585" stroke-width="0.9"/></g><g transform="translate(76.0,21.0) rotate(-34.5)"><rect x="-19.4" y="-5.0" width="38.8" height="10.0" rx="2" fill="#646464" stroke="#858585" stroke-width="0.9"/></g><g transform="translate(87.0,30.0) rotate(-38.7)"><rect x="-19.2" y="-5.0" width="38.4" height="10.0" rx="2" fill="#646464" stroke="#858585" stroke-width="0.9"/></g><g transform="translate(80.0,4.0) rotate(18.4)"><rect x="-12.6" y="-4.0" width="25.3" height="8.0" rx="2" fill="#646464" stroke="#858585" stroke-width="0.9"/></g><g transform="translate(20.0,59.0) rotate(-2.9)"><rect x="-20.0" y="-7.0" width="40.0" height="14.0" rx="2" fill="#646464" stroke="#858585" stroke-width="0.9"/></g><g transform="translate(20.0,77.0) rotate(-8.5)"><rect x="-20.2" y="-7.0" width="40.4" height="14.0" rx="2" fill="#646464" stroke="#858585" stroke-width="0.9"/></g><g transform="translate(90.0,155.0) rotate(-9.5)"><rect x="-30.4" y="-7.0" width="60.8" height="14.0" rx="2" fill="#646464" stroke="#858585" stroke-width="0.9"/></g><g transform="translate(210.0,120.0) rotate(18.4)"><rect x="-31.6" y="-7.0" width="63.2" height="14.0" rx="2" fill="#646464" stroke="#858585" stroke-width="0.9"/></g><g transform="translate(185.0,195.0) rotate(-15.9)"><rect x="-36.4" y="-8.0" width="72.8" height="16.0" rx="2" fill="#646464" stroke="#858585" stroke-width="0.9"/></g><g transform="translate(30.0,230.0) rotate(18.4)"><rect x="-31.6" y="-7.0" width="63.2" height="14.0" rx="2" fill="#646464" stroke="#858585" stroke-width="0.9"/></g><g transform="translate(265.0,145.0) rotate(8.1)"><rect x="-35.4" y="-7.0" width="70.7" height="14.0" rx="2" fill="#646464" stroke="#858585" stroke-width="0.9"/></g><g transform="translate(225.0,195.0) rotate(-11.3)"><rect x="-25.5" y="-7.0" width="51.0" height="14.0" rx="2" fill="#646464" stroke="#858585" stroke-width="0.9"/></g><g transform="translate(20.0,227.5) rotate(-20.6)"><rect x="-21.4" y="-6.0" width="42.7" height="12.0" rx="2" fill="#646464" stroke="#858585" stroke-width="0.9"/></g><g transform="translate(125.0,95.0) rotate(0.0)"><rect x="-25.0" y="-7.0" width="50.0" height="14.0" rx="2" fill="#646464" stroke="#858585" stroke-width="0.9"/></g><g transform="translate(220.0,50.0) rotate(26.6)"><rect x="-22.4" y="-6.0" width="44.7" height="12.0" rx="2" fill="#646464" stroke="#858585" stroke-width="0.9"/></g><g transform="translate(290.0,120.0) rotate(63.4)"><rect x="-22.4" y="-6.0" width="44.7" height="12.0" rx="2" fill="#646464" stroke="#858585" stroke-width="0.9"/></g><g transform="translate(165.0,95.0) rotate(45.0)"><rect x="-21.2" y="-6.0" width="42.4" height="12.0" rx="2" fill="#646464" stroke="#858585" stroke-width="0.9"/></g><g transform="translate(85.0,115.0) rotate(31.0)"><rect x="-29.2" y="-6.0" width="58.3" height="12.0" rx="2" fill="#646464" stroke="#858585" stroke-width="0.9"/></g><g transform="translate(200.0,232.5) rotate(14.0)"><rect x="-30.9" y="-7.0" width="61.8" height="14.0" rx="2" fill="#646464" stroke="#858585" stroke-width="0.9"/></g><g transform="translate(70.0,172.5) rotate(-22.6)"><rect x="-32.5" y="-6.5" width="65.0" height="13.0" rx="2" fill="#646464" stroke="#858585" stroke-width="0.9"/></g><g transform="translate(170.0,202.5) rotate(-22.6)"><rect x="-32.5" y="-6.5" width="65.0" height="13.0" rx="2" fill="#646464" stroke="#858585" stroke-width="0.9"/></g><g transform="translate(12.5,50.0) rotate(0.0)"><rect x="-12.5" y="-6.0" width="25.0" height="12.0" rx="2" fill="#646464" stroke="#858585" stroke-width="0.9"/></g><g transform="translate(10.0,105.0) rotate(26.6)"><rect x="-11.2" y="-6.0" width="22.4" height="12.0" rx="2" fill="#646464" stroke="#858585" stroke-width="0.9"/></g><g transform="translate(205.0,145.0) rotate(-11.3)"><rect x="-25.5" y="-6.0" width="51.0" height="12.0" rx="2" fill="#646464" stroke="#858585" stroke-width="0.9"/></g><g transform="translate(252.5,135.0) rotate(-21.8)"><rect x="-13.5" y="-6.0" width="26.9" height="12.0" rx="2" fill="#646464" stroke="#858585" stroke-width="0.9"/></g><g transform="translate(49.5,51.0) rotate(0.0)"><rect x="-22.5" y="-6.8" width="45.0" height="13.7" rx="2.5" fill="url(#rg)" stroke="#959595" stroke-width="1"/><line x1="-20.5" y1="-2.5" x2="20.5" y2="-2.5" stroke="#6f6f6f" stroke-width="0.7"/></g><g transform="translate(64.0,67.5) rotate(-2.4)"><rect x="-36.0" y="-8.9" width="72.1" height="17.9" rx="2.5" fill="url(#rg)" stroke="#959595" stroke-width="1"/><line x1="-34.0" y1="-3.2" x2="34.0" y2="-3.2" stroke="#6f6f6f" stroke-width="0.7"/></g><g transform="translate(130.0,34.0) rotate(0.0)"><rect x="-30.0" y="-5.8" width="60.0" height="11.6" rx="2.5" fill="url(#rg)" stroke="#959595" stroke-width="1"/><line x1="-28.0" y1="-2.1" x2="28.0" y2="-2.1" stroke="#6f6f6f" stroke-width="0.7"/></g><g transform="translate(132.0,44.0) rotate(-3.2)"><rect x="-36.1" y="-6.3" width="72.1" height="12.6" rx="2.5" fill="url(#rg)" stroke="#959595" stroke-width="1"/><line x1="-34.1" y1="-2.3" x2="34.1" y2="-2.3" stroke="#6f6f6f" stroke-width="0.7"/></g><g transform="translate(40.7,8.9) rotate(-28.8)"><rect x="-28.9" y="-7.9" width="57.7" height="15.8" rx="2.5" fill="url(#rg)" stroke="#959595" stroke-width="1"/><line x1="-26.9" y1="-2.8" x2="26.9" y2="-2.8" stroke="#6f6f6f" stroke-width="0.7"/></g><g transform="translate(9.5,37.4) rotate(-29.4)"><rect x="-10.9" y="-5.2" width="21.8" height="10.5" rx="2.5" fill="url(#rg)" stroke="#959595" stroke-width="1"/><line x1="-8.9" y1="-1.9" x2="8.9" y2="-1.9" stroke="#6f6f6f" stroke-width="0.7"/></g><g transform="translate(41.2,33.0) rotate(-35.3)"><rect x="-34.6" y="-7.9" width="69.2" height="15.8" rx="2.5" fill="url(#rg)" stroke="#959595" stroke-width="1"/><line x1="-32.6" y1="-2.8" x2="32.6" y2="-2.8" stroke="#6f6f6f" stroke-width="0.7"/></g><g transform="translate(86.0,50.5) rotate(31.4)"><rect x="-10.5" y="-6.8" width="21.1" height="13.7" rx="2.5" fill="url(#rg)" stroke="#959595" stroke-width="1"/><line x1="-8.5" y1="-2.5" x2="8.5" y2="-2.5" stroke="#6f6f6f" stroke-width="0.7"/></g><g transform="translate(132.5,69.0) rotate(-3.6)"><rect x="-31.6" y="-7.9" width="63.1" height="15.8" rx="2.5" fill="url(#rg)" stroke="#959595" stroke-width="1"/><line x1="-29.6" y1="-2.8" x2="29.6" y2="-2.8" stroke="#6f6f6f" stroke-width="0.7"/></g><g transform="translate(157.5,44.0) rotate(-53.8)"><rect x="-16.1" y="-6.3" width="32.2" height="12.6" rx="2.5" fill="url(#rg)" stroke="#959595" stroke-width="1"/><line x1="-14.1" y1="-2.3" x2="14.1" y2="-2.3" stroke="#6f6f6f" stroke-width="0.7"/></g><g transform="translate(190.0,35.5) rotate(-1.9)"><rect x="-15.0" y="-6.3" width="30.0" height="12.6" rx="2.5" fill="url(#rg)" stroke="#959595" stroke-width="1"/><line x1="-13.0" y1="-2.3" x2="13.0" y2="-2.3" stroke="#6f6f6f" stroke-width="0.7"/></g><g transform="translate(218.0,35.5) rotate(127.4)"><rect x="-34.6" y="-7.4" width="69.2" height="14.7" rx="2.5" fill="url(#rg)" stroke="#959595" stroke-width="1"/><line x1="-32.6" y1="-2.6" x2="32.6" y2="-2.6" stroke="#6f6f6f" stroke-width="0.7"/></g><g transform="translate(257.0,19.5) rotate(-60.8)"><rect x="-14.3" y="-5.8" width="28.7" height="11.6" rx="2.5" fill="url(#rg)" stroke="#959595" stroke-width="1"/><line x1="-12.3" y1="-2.1" x2="12.3" y2="-2.1" stroke="#6f6f6f" stroke-width="0.7"/></g><g transform="translate(251.5,44.0) rotate(141.1)"><rect x="-43.0" y="-8.4" width="86.1" height="16.8" rx="2.5" fill="url(#rg)" stroke="#959595" stroke-width="1"/><line x1="-41.0" y1="-3.0" x2="41.0" y2="-3.0" stroke="#6f6f6f" stroke-width="0.7"/></g><g transform="translate(282.0,40.5) rotate(-34.8)"><rect x="-21.9" y="-6.8" width="43.8" height="13.7" rx="2.5" fill="url(#rg)" stroke="#959595" stroke-width="1"/><line x1="-19.9" y1="-2.5" x2="19.9" y2="-2.5" stroke="#6f6f6f" stroke-width="0.7"/></g><g transform="translate(285.0,51.8) rotate(-33.0)"><rect x="-17.9" y="-6.8" width="35.8" height="13.7" rx="2.5" fill="url(#rg)" stroke="#959595" stroke-width="1"/><line x1="-15.9" y1="-2.5" x2="15.9" y2="-2.5" stroke="#6f6f6f" stroke-width="0.7"/></g><g transform="translate(242.0,66.5) rotate(-34.2)"><rect x="-16.9" y="-6.8" width="33.8" height="13.7" rx="2.5" fill="url(#rg)" stroke="#959595" stroke-width="1"/><line x1="-14.9" y1="-2.5" x2="14.9" y2="-2.5" stroke="#6f6f6f" stroke-width="0.7"/></g><g transform="translate(256.0,71.0) rotate(-32.7)"><rect x="-16.6" y="-6.8" width="33.3" height="13.7" rx="2.5" fill="url(#rg)" stroke="#959595" stroke-width="1"/><line x1="-14.6" y1="-2.5" x2="14.6" y2="-2.5" stroke="#6f6f6f" stroke-width="0.7"/></g><g transform="translate(285.0,72.0) rotate(-21.8)"><rect x="-16.2" y="-6.3" width="32.3" height="12.6" rx="2.5" fill="url(#rg)" stroke="#959595" stroke-width="1"/><line x1="-14.2" y1="-2.3" x2="14.2" y2="-2.3" stroke="#6f6f6f" stroke-width="0.7"/></g><g transform="translate(14.0,93.5) rotate(-2.0)"><rect x="-14.0" y="-5.8" width="28.0" height="11.6" rx="2.5" fill="url(#rg)" stroke="#959595" stroke-width="1"/><line x1="-12.0" y1="-2.1" x2="12.0" y2="-2.1" stroke="#6f6f6f" stroke-width="0.7"/></g><g transform="translate(50.5,95.0) rotate(-21.2)"><rect x="-49.9" y="-8.9" width="99.7" height="17.9" rx="2.5" fill="url(#rg)" stroke="#959595" stroke-width="1"/><line x1="-47.9" y1="-3.2" x2="47.9" y2="-3.2" stroke="#6f6f6f" stroke-width="0.7"/></g><g transform="translate(39.5,123.5) rotate(-22.6)"><rect x="-35.2" y="-5.8" width="70.4" height="11.6" rx="2.5" fill="url(#rg)" stroke="#959595" stroke-width="1"/><line x1="-33.2" y1="-2.1" x2="33.2" y2="-2.1" stroke="#6f6f6f" stroke-width="0.7"/></g><g transform="translate(46.0,123.5) rotate(-17.5)"><rect x="-48.2" y="-7.4" width="96.5" height="14.7" rx="2.5" fill="url(#rg)" stroke="#959595" stroke-width="1"/><line x1="-46.2" y1="-2.6" x2="46.2" y2="-2.6" stroke="#6f6f6f" stroke-width="0.7"/></g><g transform="translate(82.5,132.5) rotate(-25.8)"><rect x="-17.2" y="-5.8" width="34.4" height="11.6" rx="2.5" fill="url(#rg)" stroke="#959595" stroke-width="1"/><line x1="-15.2" y1="-2.1" x2="15.2" y2="-2.1" stroke="#6f6f6f" stroke-width="0.7"/></g><g transform="translate(48.2,151.0) rotate(-19.1)"><rect x="-21.4" y="-6.8" width="42.9" height="13.7" rx="2.5" fill="url(#rg)" stroke="#959595" stroke-width="1"/><line x1="-19.4" y1="-2.5" x2="19.4" y2="-2.5" stroke="#6f6f6f" stroke-width="0.7"/></g><g transform="translate(180.0,66.5) rotate(-34.0)"><rect x="-24.1" y="-6.3" width="48.3" height="12.6" rx="2.5" fill="url(#rg)" stroke="#959595" stroke-width="1"/><line x1="-22.1" y1="-2.3" x2="22.1" y2="-2.3" stroke="#6f6f6f" stroke-width="0.7"/></g><g transform="translate(111.2,119.5) rotate(100.0)"><rect x="-36.0" y="-7.9" width="72.1" height="15.8" rx="2.5" fill="url(#rg)" stroke="#959595" stroke-width="1"/><line x1="-34.0" y1="-2.8" x2="34.0" y2="-2.8" stroke="#6f6f6f" stroke-width="0.7"/></g><g transform="translate(161.5,96.5) rotate(-43.1)"><rect x="-43.2" y="-8.4" width="86.3" height="16.8" rx="2.5" fill="url(#rg)" stroke="#959595" stroke-width="1"/><line x1="-41.2" y1="-3.0" x2="41.2" y2="-3.0" stroke="#6f6f6f" stroke-width="0.7"/></g><g transform="translate(188.5,102.5) rotate(-43.2)"><rect x="-46.0" y="-8.4" width="92.0" height="16.8" rx="2.5" fill="url(#rg)" stroke="#959595" stroke-width="1"/><line x1="-44.0" y1="-3.0" x2="44.0" y2="-3.0" stroke="#6f6f6f" stroke-width="0.7"/></g><g transform="translate(218.0,104.5) rotate(-41.4)"><rect x="-50.7" y="-7.9" width="101.3" height="15.8" rx="2.5" fill="url(#rg)" stroke="#959595" stroke-width="1"/><line x1="-48.7" y1="-2.8" x2="48.7" y2="-2.8" stroke="#6f6f6f" stroke-width="0.7"/></g><g transform="translate(226.5,96.0) rotate(-31.1)"><rect x="-31.0" y="-7.4" width="61.9" height="14.7" rx="2.5" fill="url(#rg)" stroke="#959595" stroke-width="1"/><line x1="-29.0" y1="-2.6" x2="29.0" y2="-2.6" stroke="#6f6f6f" stroke-width="0.7"/></g><g transform="translate(283.0,88.5) rotate(-26.6)"><rect x="-19.0" y="-6.3" width="38.0" height="12.6" rx="2.5" fill="url(#rg)" stroke="#959595" stroke-width="1"/><line x1="-17.0" y1="-2.3" x2="17.0" y2="-2.3" stroke="#6f6f6f" stroke-width="0.7"/></g><g transform="translate(267.5,116.5) rotate(-28.3)"><rect x="-36.9" y="-10.5" width="73.8" height="21.0" rx="2.5" fill="url(#rg)" stroke="#959595" stroke-width="1"/><line x1="-34.9" y1="-3.8" x2="34.9" y2="-3.8" stroke="#6f6f6f" stroke-width="0.7"/></g><g transform="translate(33.5,155.5) rotate(-20.5)"><rect x="-35.8" y="-7.9" width="71.5" height="15.8" rx="2.5" fill="url(#rg)" stroke="#959595" stroke-width="1"/><line x1="-33.8" y1="-2.8" x2="33.8" y2="-2.8" stroke="#6f6f6f" stroke-width="0.7"/></g><g transform="translate(14.5,182.5) rotate(-24.1)"><rect x="-15.9" y="-6.3" width="31.8" height="12.6" rx="2.5" fill="url(#rg)" stroke="#959595" stroke-width="1"/><line x1="-13.9" y1="-2.3" x2="13.9" y2="-2.3" stroke="#6f6f6f" stroke-width="0.7"/></g><g transform="translate(18.0,214.5) rotate(32.6)"><rect x="-21.4" y="-7.4" width="42.7" height="14.7" rx="2.5" fill="url(#rg)" stroke="#959595" stroke-width="1"/><line x1="-19.4" y1="-2.6" x2="19.4" y2="-2.6" stroke="#6f6f6f" stroke-width="0.7"/></g><g transform="translate(31.3,214.0) rotate(48.3)"><rect x="-28.1" y="-6.8" width="56.2" height="13.7" rx="2.5" fill="url(#rg)" stroke="#959595" stroke-width="1"/><line x1="-26.1" y1="-2.5" x2="26.1" y2="-2.5" stroke="#6f6f6f" stroke-width="0.7"/></g><g transform="translate(47.2,199.3) rotate(60.0)"><rect x="-31.5" y="-6.8" width="63.0" height="13.7" rx="2.5" fill="url(#rg)" stroke="#959595" stroke-width="1"/><line x1="-29.5" y1="-2.5" x2="29.5" y2="-2.5" stroke="#6f6f6f" stroke-width="0.7"/></g><g transform="translate(78.5,183.0) rotate(-29.2)"><rect x="-24.6" y="-7.9" width="49.2" height="15.8" rx="2.5" fill="url(#rg)" stroke="#959595" stroke-width="1"/><line x1="-22.6" y1="-2.8" x2="22.6" y2="-2.8" stroke="#6f6f6f" stroke-width="0.7"/></g><g transform="translate(85.0,213.0) rotate(-55.7)"><rect x="-26.6" y="-6.8" width="53.3" height="13.7" rx="2.5" fill="url(#rg)" stroke="#959595" stroke-width="1"/><line x1="-24.6" y1="-2.5" x2="24.6" y2="-2.5" stroke="#6f6f6f" stroke-width="0.7"/></g><g transform="translate(88.0,180.0) rotate(-40.0)"><rect x="-32.6" y="-7.4" width="65.3" height="14.7" rx="2.5" fill="url(#rg)" stroke="#959595" stroke-width="1"/><line x1="-30.6" y1="-2.6" x2="30.6" y2="-2.6" stroke="#6f6f6f" stroke-width="0.7"/></g><g transform="translate(84.0,218.0) rotate(-22.0)"><rect x="-45.3" y="-7.4" width="90.6" height="14.7" rx="2.5" fill="url(#rg)" stroke="#959595" stroke-width="1"/><line x1="-43.3" y1="-2.6" x2="43.3" y2="-2.6" stroke="#6f6f6f" stroke-width="0.7"/></g><g transform="translate(127.0,179.5) rotate(-56.3)"><rect x="-23.4" y="-7.4" width="46.9" height="14.7" rx="2.5" fill="url(#rg)" stroke="#959595" stroke-width="1"/><line x1="-21.4" y1="-2.6" x2="21.4" y2="-2.6" stroke="#6f6f6f" stroke-width="0.7"/></g><g transform="translate(132.2,174.2) rotate(-52.7)"><rect x="-45.0" y="-7.9" width="89.9" height="15.8" rx="2.5" fill="url(#rg)" stroke="#959595" stroke-width="1"/><line x1="-43.0" y1="-2.8" x2="43.0" y2="-2.8" stroke="#6f6f6f" stroke-width="0.7"/></g><g transform="translate(161.5,172.0) rotate(-46.5)"><rect x="-40.0" y="-7.9" width="79.9" height="15.8" rx="2.5" fill="url(#rg)" stroke="#959595" stroke-width="1"/><line x1="-38.0" y1="-2.8" x2="38.0" y2="-2.8" stroke="#6f6f6f" stroke-width="0.7"/></g><g transform="translate(184.5,172.0) rotate(-44.4)"><rect x="-35.7" y="-7.4" width="71.4" height="14.7" rx="2.5" fill="url(#rg)" stroke="#959595" stroke-width="1"/><line x1="-33.7" y1="-2.6" x2="33.7" y2="-2.6" stroke="#6f6f6f" stroke-width="0.7"/></g><g transform="translate(180.5,193.0) rotate(-27.2)"><rect x="-19.7" y="-7.4" width="39.4" height="14.7" rx="2.5" fill="url(#rg)" stroke="#959595" stroke-width="1"/><line x1="-17.7" y1="-2.6" x2="17.7" y2="-2.6" stroke="#6f6f6f" stroke-width="0.7"/></g><g transform="translate(119.5,217.5) rotate(-21.0)"><rect x="-20.9" y="-6.3" width="41.8" height="12.6" rx="2.5" fill="url(#rg)" stroke="#959595" stroke-width="1"/><line x1="-18.9" y1="-2.3" x2="18.9" y2="-2.3" stroke="#6f6f6f" stroke-width="0.7"/></g><g transform="translate(170.0,223.0) rotate(-31.3)"><rect x="-32.8" y="-7.4" width="65.5" height="14.7" rx="2.5" fill="url(#rg)" stroke="#959595" stroke-width="1"/><line x1="-30.8" y1="-2.6" x2="30.8" y2="-2.6" stroke="#6f6f6f" stroke-width="0.7"/></g><g transform="translate(219.5,137.5) rotate(-55.4)"><rect x="-27.3" y="-6.3" width="54.6" height="12.6" rx="2.5" fill="url(#rg)" stroke="#959595" stroke-width="1"/><line x1="-25.3" y1="-2.3" x2="25.3" y2="-2.3" stroke="#6f6f6f" stroke-width="0.7"/></g><g transform="translate(233.5,180.0) rotate(89.1)"><rect x="-33.0" y="-7.4" width="66.0" height="14.7" rx="2.5" fill="url(#rg)" stroke="#959595" stroke-width="1"/><line x1="-31.0" y1="-2.6" x2="31.0" y2="-2.6" stroke="#6f6f6f" stroke-width="0.7"/></g><g transform="translate(261.0,164.0) rotate(107.7)"><rect x="-34.6" y="-7.4" width="69.3" height="14.7" rx="2.5" fill="url(#rg)" stroke="#959595" stroke-width="1"/><line x1="-32.6" y1="-2.6" x2="32.6" y2="-2.6" stroke="#6f6f6f" stroke-width="0.7"/></g><g transform="translate(282.9,169.0) rotate(102.9)"><rect x="-30.8" y="-7.4" width="61.5" height="14.7" rx="2.5" fill="url(#rg)" stroke="#959595" stroke-width="1"/><line x1="-28.8" y1="-2.6" x2="28.8" y2="-2.6" stroke="#6f6f6f" stroke-width="0.7"/></g><g transform="translate(298.0,173.5) rotate(105.4)"><rect x="-26.4" y="-7.4" width="52.9" height="14.7" rx="2.5" fill="url(#rg)" stroke="#959595" stroke-width="1"/><line x1="-24.4" y1="-2.6" x2="24.4" y2="-2.6" stroke="#6f6f6f" stroke-width="0.7"/></g><g transform="translate(267.8,209.8) rotate(-28.4)"><rect x="-24.7" y="-7.4" width="49.4" height="14.7" rx="2.5" fill="url(#rg)" stroke="#959595" stroke-width="1"/><line x1="-22.7" y1="-2.6" x2="22.7" y2="-2.6" stroke="#6f6f6f" stroke-width="0.7"/></g><g transform="translate(223.0,221.5) rotate(-20.3)"><rect x="-24.5" y="-7.4" width="49.0" height="14.7" rx="2.5" fill="url(#rg)" stroke="#959595" stroke-width="1"/><line x1="-22.5" y1="-2.6" x2="22.5" y2="-2.6" stroke="#6f6f6f" stroke-width="0.7"/></g><g transform="translate(252.0,214.0) rotate(-26.6)"><rect x="-47.0" y="-8.4" width="93.9" height="16.8" rx="2.5" fill="url(#rg)" stroke="#959595" stroke-width="1"/><line x1="-45.0" y1="-3.0" x2="45.0" y2="-3.0" stroke="#6f6f6f" stroke-width="0.7"/></g><g transform="translate(280.5,227.5) rotate(-32.7)"><rect x="-23.2" y="-7.4" width="46.3" height="14.7" rx="2.5" fill="url(#rg)" stroke="#959595" stroke-width="1"/><line x1="-21.2" y1="-2.6" x2="21.2" y2="-2.6" stroke="#6f6f6f" stroke-width="0.7"/></g><polygon points="92.5,53.8 86.0,57.5 79.5,53.8 79.5,46.2 86.0,42.5 92.5,46.2" fill="#6e6e6e" stroke="#979797" stroke-width="1"/><polygon points="226.1,65.5 220.0,69.0 213.9,65.5 213.9,58.5 220.0,55.0 226.1,58.5" fill="#6e6e6e" stroke="#979797" stroke-width="1"/><polygon points="230.8,49.8 226.0,52.5 221.2,49.8 221.2,44.2 226.0,41.5 230.8,44.2" fill="#6e6e6e" stroke="#979797" stroke-width="1"/>
<text x="100.5" y="18.3" transform="rotate(-27.5 100.5 18.3)" text-anchor="middle" dominant-baseline="central" font-family="Liberation Sans" font-weight="bold" font-style="italic" font-size="15.5" letter-spacing="1.3" fill="rgba(255,255,255,0.24)">CHEMSOON</text><text x="160.5" y="64.8" transform="rotate(-27.5 160.5 64.8)" text-anchor="middle" dominant-baseline="central" font-family="Liberation Sans" font-weight="bold" font-style="italic" font-size="15.5" letter-spacing="1.3" fill="rgba(255,255,255,0.24)">CHEMSOON</text><text x="27.8" y="124.8" transform="rotate(-27.5 27.8 124.8)" text-anchor="middle" dominant-baseline="central" font-family="Liberation Sans" font-weight="bold" font-style="italic" font-size="15.5" letter-spacing="1.3" fill="rgba(255,255,255,0.24)">CHEMSOON</text><text x="223" y="116" transform="rotate(-27.5 223 116)" text-anchor="middle" dominant-baseline="central" font-family="Liberation Sans" font-weight="bold" font-style="italic" font-size="15.5" letter-spacing="1.3" fill="rgba(255,255,255,0.24)">CHEMSOON</text><text x="100" y="168" transform="rotate(-27.5 100 168)" text-anchor="middle" dominant-baseline="central" font-family="Liberation Sans" font-weight="bold" font-style="italic" font-size="15.5" letter-spacing="1.3" fill="rgba(255,255,255,0.24)">CHEMSOON</text><text x="286" y="166" transform="rotate(-27.5 286 166)" text-anchor="middle" dominant-baseline="central" font-family="Liberation Sans" font-weight="bold" font-style="italic" font-size="15.5" letter-spacing="1.3" fill="rgba(255,255,255,0.24)">CHEMSOON</text><text x="156" y="226" transform="rotate(-27.5 156 226)" text-anchor="middle" dominant-baseline="central" font-family="Liberation Sans" font-weight="bold" font-style="italic" font-size="15.5" letter-spacing="1.3" fill="rgba(255,255,255,0.24)">CHEMSOON</text>
</g>
<rect x="159.5" y="209.5" width="1" height="3" fill="#e8e8e8"/><rect x="171.3" y="209.5" width="1" height="3" fill="#e8e8e8"/><rect x="183.2" y="209.5" width="1" height="3" fill="#e8e8e8"/><rect x="195.1" y="209.5" width="1" height="3" fill="#e8e8e8"/><rect x="206.9" y="209.5" width="1" height="3" fill="#e8e8e8"/><rect x="218.8" y="209.5" width="1" height="3" fill="#e8e8e8"/><rect x="230.6" y="209.5" width="1" height="3" fill="#e8e8e8"/><rect x="242.4" y="209.5" width="1" height="3" fill="#e8e8e8"/><rect x="254.3" y="209.5" width="1" height="3" fill="#e8e8e8"/><rect x="266.1" y="209.5" width="1" height="3" fill="#e8e8e8"/><rect x="278.0" y="209.5" width="1" height="3" fill="#e8e8e8"/><text x="18.6" y="220.6" font-family="Liberation Sans" font-size="8.8" fill="#e6e6e6" textLength="117.5" lengthAdjust="spacingAndGlyphs">S4800 1.0kV-D 4.7mm x10.0k</text><text x="251.5" y="220.7" font-family="Liberation Sans" font-size="8.6" fill="#e6e6e6">5.00um</text>
</g>
</svg>
</body></html>
